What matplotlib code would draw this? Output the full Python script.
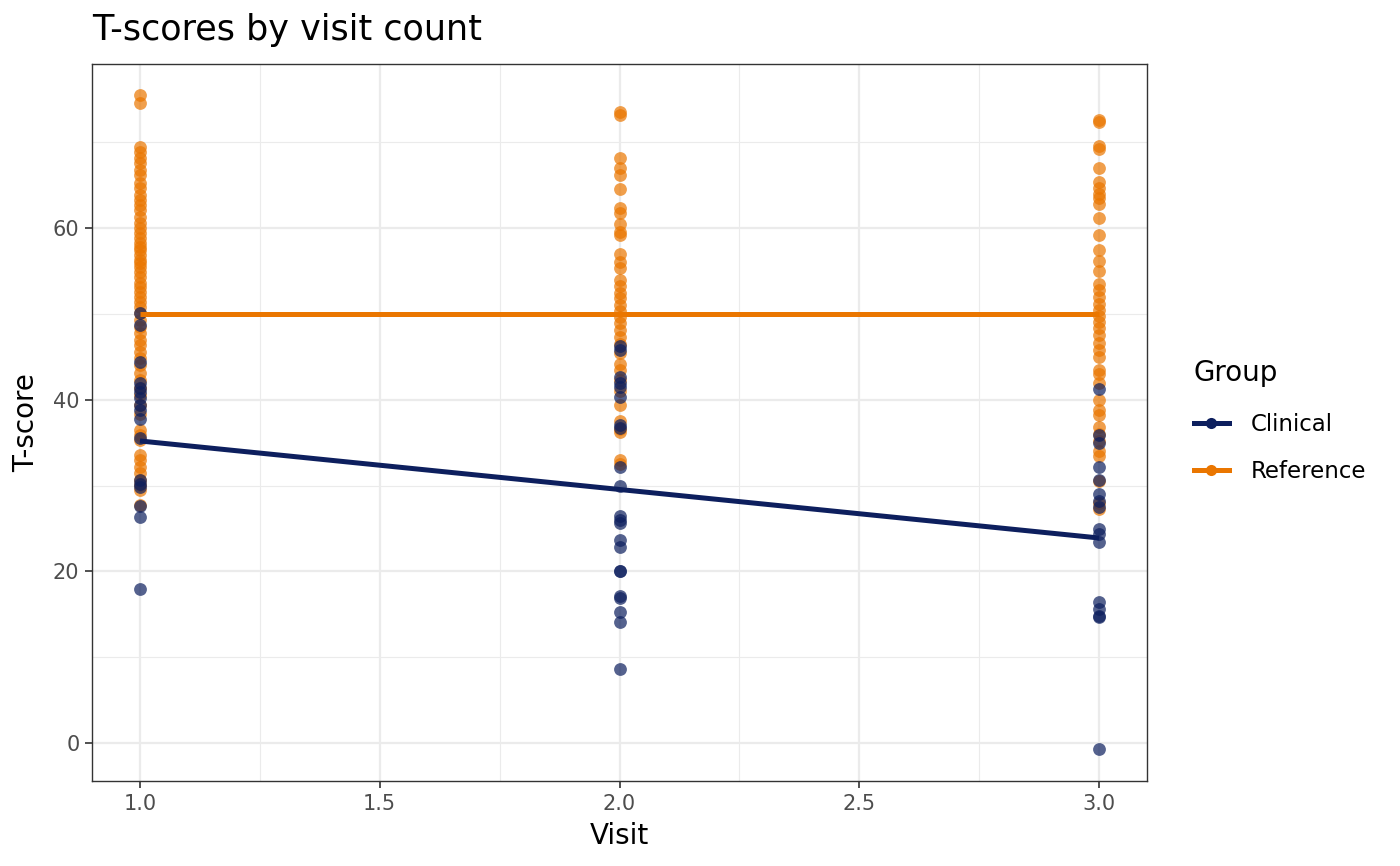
import matplotlib
matplotlib.use("Agg")
import matplotlib.pyplot as plt
from matplotlib.lines import Line2D
import numpy as np

# data
visits = [1, 2, 3]
groups = ["Clinical", "Reference"]

clinical_v1 = [50.1, 48.7, 44.4, 42.0, 41.4, 40.9, 40.2, 39.4, 38.8, 37.7, 35.6,
               30.7, 30.2, 29.8, 27.6, 26.3, 18.0]
clinical_v2 = [46.3, 45.8, 42.7, 42.0, 41.5, 40.3, 37.1, 36.7, 32.2, 30.0, 26.5,
               26.0, 25.6, 23.7, 22.8, 20.1, 20.0, 17.1, 16.9, 15.3, 14.1, 8.6]
clinical_v3 = [41.2, 35.9, 35.0, 32.2, 30.7, 29.0, 28.2, 27.5, 25.0, 24.4, 23.4,
               16.5, 15.6, 14.8, 14.7, -0.7]

reference_v1 = [75.5, 74.5, 69.4, 68.8, 68.1, 67.6, 66.7, 66.2, 65.2, 64.7, 63.8,
                63.3, 62.7, 62.1, 61.3, 60.6, 60.0, 59.4, 58.8, 58.3, 57.8, 57.4,
                56.9, 56.3, 55.9, 55.5, 54.9, 54.3, 53.6, 53.1, 52.6, 52.0, 51.4,
                50.8, 50.1, 49.3, 48.5, 47.8, 47.0, 46.4, 45.6, 44.9, 44.1, 43.1,
                42.3, 41.4, 40.6, 39.4, 38.3, 36.5, 35.9, 35.3, 33.6, 33.0, 32.2,
                31.5, 30.7, 30.1, 29.5, 27.8]
reference_v2 = [73.5, 73.2, 68.2, 67.0, 66.2, 64.6, 62.3, 61.7, 60.5, 59.5, 59.2,
                57.0, 56.0, 55.3, 54.0, 53.2, 52.4, 51.8, 51.0, 50.3, 49.6, 48.9,
                48.1, 47.3, 46.5, 45.5, 44.2, 43.5, 42.3, 41.0, 39.4, 37.5, 36.6,
                36.2, 33.0, 32.5]
reference_v3 = [72.6, 72.3, 69.6, 69.2, 67.0, 65.3, 64.7, 64.0, 63.5, 62.8, 61.2,
                59.2, 57.4, 56.2, 55.0, 53.5, 52.8, 52.0, 51.2, 50.5, 49.8, 49.0,
                48.3, 47.5, 46.6, 45.8, 45.0, 43.5, 43.0, 42.0, 40.0, 38.8, 38.2,
                36.8, 36.0, 35.2, 34.0, 33.5, 30.5, 28.0, 27.3]

# fitted line per visit
clinical_fit = [35.2, 29.55, 23.9]
reference_fit = [50.0, 50.0, 50.0]

navy = "#0D1F5E"
orange = "#EA7600"

fig = plt.figure(figsize=(14, 8.66), dpi=100)
ax = fig.add_axes([92/1400, 85/866, 1055/1400, 717/866])

def scatter_group(vals_by_visit, color):
    for v, vals in zip(visits, vals_by_visit):
        ax.scatter(np.full(len(vals), v), vals, s=85, color=color, alpha=0.7,
                   linewidths=0, zorder=3)

scatter_group([reference_v1, reference_v2, reference_v3], orange)
scatter_group([clinical_v1, clinical_v2, clinical_v3], navy)

ax.plot(visits, clinical_fit, color=navy, lw=3.6, zorder=4, solid_capstyle="butt")
ax.plot(visits, reference_fit, color=orange, lw=3.6, zorder=4, solid_capstyle="butt")

ax.set_xlim(0.9, 3.1)
ax.set_ylim(-4.4, 79.1)
ax.set_xticks([1.0, 1.5, 2.0, 2.5, 3.0])
ax.set_xticklabels(["1.0", "1.5", "2.0", "2.5", "3.0"])
ax.set_xticks([1.25, 1.75, 2.25, 2.75], minor=True)
ax.set_yticks([0, 20, 40, 60])
ax.set_yticks([10, 30, 50, 70], minor=True)

ax.grid(which="major", color="#EBEBEB", lw=1.6, zorder=0)
ax.grid(which="minor", color="#EBEBEB", lw=0.8, zorder=0)
ax.set_axisbelow(True)
for sp in ax.spines.values():
    sp.set_color("#333333")
    sp.set_linewidth(1.0)
ax.tick_params(which="major", length=5, width=1.2, color="#333333",
               labelsize=15, labelcolor="#4D4D4D", pad=4)
ax.tick_params(which="minor", length=0)

ax.set_xlabel("Visit", fontsize=20, labelpad=6)
ax.set_ylabel("T-score", fontsize=20, labelpad=9)
fig.text(92/1400, 1 - 30/866, "T-scores by visit count", fontsize=25.2,
         ha="left", va="center")

handles = [Line2D([0], [0], color=navy, lw=3.6, marker="o", markersize=8, alpha=1.0,
                  markerfacecolor=navy, markeredgewidth=0),
           Line2D([0], [0], color=orange, lw=3.6, marker="o", markersize=8,
                  markerfacecolor=orange, markeredgewidth=0)]
leg = fig.legend(handles, groups, title="Group", loc="upper left",
                 bbox_to_anchor=(1173/1400, 1 - 338/866), frameon=False,
                 fontsize=16.5, title_fontsize=20, handlelength=1.55,
                 handletextpad=0.95, labelspacing=1.05)
leg._legend_box.align = "left"
leg._legend_box.sep = 19

fig.savefig("out.png", dpi=100)
